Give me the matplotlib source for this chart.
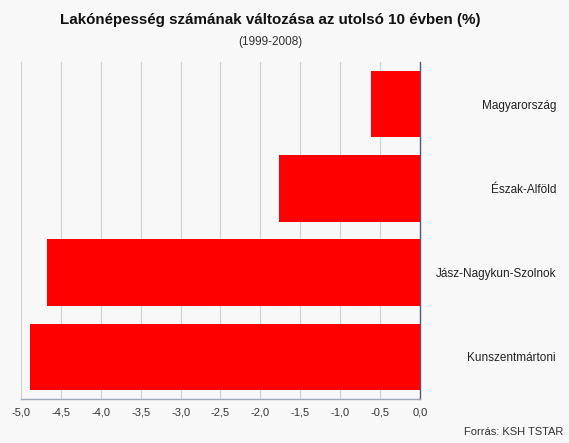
import numpy as np
import matplotlib
matplotlib.use("Agg")
from matplotlib import pyplot as plt

# data (top to bottom as in the picture)
regions = ["Magyarország", "Észak-Alföld", "Jász-Nagykun-Szolnok", "Kunszentmártoni"]
change_pct = [-0.61, -1.77, -4.68, -4.89]
x_ticks = [-5.0, -4.5, -4.0, -3.5, -3.0, -2.5, -2.0, -1.5, -1.0, -0.5, 0.0]

title = "Lakónépesség számának változása az utolsó 10 évben (%)"
subtitle = "(1999-2008)"
source = "Forrás: KSH TSTAR"

plt.rcParams['font.family'] = ['Liberation Sans', 'DejaVu Sans']

fig = plt.figure(figsize=(5.69, 4.43), dpi=100, facecolor="#f8f8f8")
ax = fig.add_axes([21 / 569, 1 - 399 / 443, (420 - 21) / 569, (399 - 62) / 443])
ax.set_facecolor("#f8f8f8")

pos = np.arange(len(regions))
ax.barh(pos, change_pct, height=0.79, color="#ff0000", zorder=3)

ax.set_xlim(-5.0, 0.0)
ax.set_ylim(len(regions) - 0.5, -0.5)

ax.set_xticks(x_ticks)
ax.set_xticklabels([("%.1f" % v).replace(".", ",") for v in x_ticks],
                   fontsize=8, color="#333333")
ax.tick_params(axis="x", length=0, pad=6)
ax.grid(axis="x", color="#d0d0d0", linewidth=0.8, zorder=0)

ax.yaxis.tick_right()
ax.set_yticks(pos)
ax.set_yticklabels(regions, fontsize=8.5, color="#222222", ha="right")
ax.tick_params(axis="y", length=0, pad=98)

for side in ["top", "left"]:
    ax.spines[side].set_visible(False)
ax.spines["right"].set_color("#555a70")
ax.spines["right"].set_linewidth(1.0)
ax.spines["bottom"].set_color("#a0a8b8")
ax.spines["bottom"].set_linewidth(1.0)

fig.text(270 / 569, 1 - 20 / 443, title, ha="center", va="center",
         fontsize=10.9, fontweight="bold", color="#111111")
fig.text(270 / 569, 1 - 42 / 443, subtitle, ha="center", va="center",
         fontsize=8.5, color="#333333")
fig.text(563 / 569, 1 - 432 / 443, source, ha="right", va="center",
         fontsize=8, color="#333333")

fig.savefig("out.png", dpi=100, facecolor=fig.get_facecolor())
